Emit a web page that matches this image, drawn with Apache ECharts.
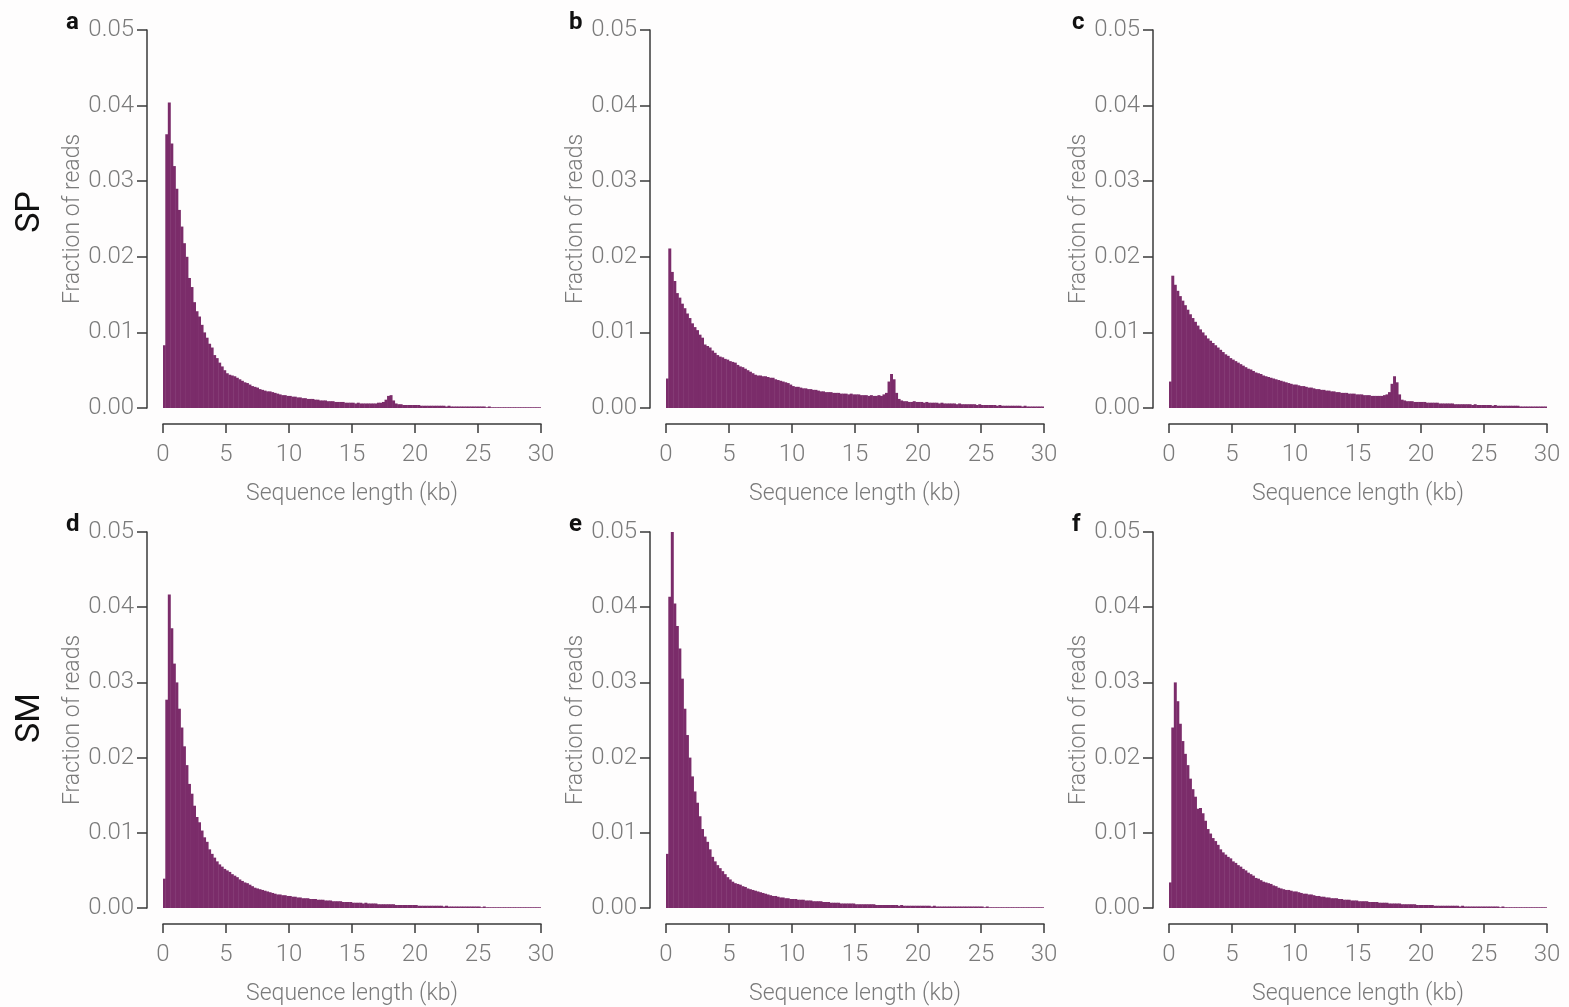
<!DOCTYPE html>
<html>
<head>
<meta charset="utf-8">
<script src="https://cdn.jsdelivr.net/npm/echarts@6/dist/echarts.min.js"></script>
<style>
html,body{margin:0;padding:0;background:#fefdfd;}
#chart{width:1569px;height:1007px;}
</style>
</head>
<body>
<div id="chart"></div>
<script>
// Histogram bins: 0.2 kb wide, 0 - 30 kb
const binWidthKb = 0.2;
const xTicks = [0, 5, 10, 15, 20, 25, 30];
const yTicks = [0.00, 0.01, 0.02, 0.03, 0.04, 0.05];
const panelLetters = ['a', 'b', 'c', 'd', 'e', 'f'];
const rowLabels = ['SP', 'SM'];

// Fraction of reads per bin
const spA = [
0.0083,0.0362,0.0404,0.0350,0.0320,0.0290,0.0262,0.0240,0.0218,0.0200,
0.0172,0.0160,0.0140,0.0128,0.0121,0.0110,0.0100,0.0093,0.0085,0.0080,
0.0070,0.0066,0.0060,0.0055,0.0050,0.0046,0.0044,0.0043,0.0042,0.0040,
0.0038,0.0036,0.0034,0.0033,0.0031,0.0029,0.0028,0.0027,0.0025,0.0024,
0.0023,0.0022,0.0022,0.0021,0.0020,0.0019,0.0018,0.0017,0.0017,0.0016,
0.0016,0.0015,0.0015,0.0014,0.0014,0.0013,0.0013,0.0012,0.0012,0.0012,
0.0011,0.0011,0.0010,0.0010,0.0010,0.0009,0.0009,0.0009,0.0008,0.0008,
0.0008,0.0008,0.0007,0.0007,0.0007,0.0007,0.0006,0.0007,0.0006,0.0006,
0.0006,0.0006,0.0006,0.0006,0.0006,0.0007,0.0007,0.0008,0.0011,0.0016,
0.0017,0.0010,0.0006,0.0005,0.0005,0.0004,0.0004,0.0004,0.0004,0.0004,
0.0004,0.0004,0.0003,0.0003,0.0003,0.0003,0.0003,0.0003,0.0003,0.0003,
0.0003,0.0003,0.0002,0.0003,0.0002,0.0002,0.0002,0.0002,0.0002,0.0002,
0.0002,0.0002,0.0002,0.0002,0.0002,0.0002,0.0002,0.0002,0.0001,0.0002,
0.0001,0.0001,0.0001,0.0001,0.0001,0.0001,0.0001,0.0001,0.0001,0.0001,
0.0001,0.0001,0.0001,0.0001,0.0001,0.0001,0.0001,0.0001,0.0001,0.0001
];
const spB = [
0.0039,0.0211,0.0180,0.0168,0.0152,0.0146,0.0138,0.0132,0.0125,0.0119,
0.0112,0.0107,0.0103,0.0097,0.0093,0.0084,0.0082,0.0080,0.0076,0.0073,
0.0070,0.0068,0.0067,0.0065,0.0064,0.0062,0.0061,0.0060,0.0057,0.0055,
0.0054,0.0052,0.0050,0.0048,0.0046,0.0044,0.0043,0.0043,0.0042,0.0042,
0.0041,0.0040,0.0040,0.0038,0.0037,0.0036,0.0035,0.0034,0.0033,0.0031,
0.0029,0.0028,0.0028,0.0027,0.0026,0.0026,0.0025,0.0025,0.0024,0.0024,
0.0023,0.0022,0.0022,0.0021,0.0021,0.0021,0.0020,0.0020,0.0020,0.0019,
0.0019,0.0019,0.0018,0.0019,0.0018,0.0018,0.0018,0.0017,0.0017,0.0017,
0.0016,0.0017,0.0016,0.0016,0.0017,0.0016,0.0018,0.0020,0.0035,0.0045,
0.0038,0.0020,0.0012,0.0010,0.0009,0.0009,0.0008,0.0008,0.0009,0.0008,
0.0008,0.0008,0.0007,0.0008,0.0007,0.0007,0.0007,0.0007,0.0006,0.0007,
0.0006,0.0006,0.0006,0.0006,0.0006,0.0005,0.0006,0.0005,0.0005,0.0005,
0.0005,0.0005,0.0005,0.0004,0.0005,0.0004,0.0004,0.0004,0.0004,0.0004,
0.0004,0.0003,0.0004,0.0003,0.0003,0.0003,0.0003,0.0003,0.0003,0.0003,
0.0003,0.0002,0.0003,0.0002,0.0002,0.0002,0.0002,0.0002,0.0002,0.0002
];
const spC = [
0.0035,0.0175,0.0163,0.0155,0.0148,0.0142,0.0136,0.0130,0.0124,0.0119,
0.0114,0.0109,0.0104,0.0100,0.0096,0.0092,0.0089,0.0086,0.0083,0.0080,
0.0077,0.0074,0.0071,0.0069,0.0066,0.0064,0.0062,0.0060,0.0058,0.0056,
0.0054,0.0052,0.0051,0.0049,0.0047,0.0046,0.0045,0.0043,0.0042,0.0041,
0.0040,0.0039,0.0038,0.0037,0.0036,0.0035,0.0034,0.0033,0.0032,0.0031,
0.0031,0.0030,0.0029,0.0029,0.0028,0.0027,0.0027,0.0026,0.0025,0.0025,
0.0024,0.0024,0.0023,0.0023,0.0022,0.0022,0.0021,0.0021,0.0020,0.0020,
0.0020,0.0019,0.0019,0.0019,0.0018,0.0018,0.0018,0.0017,0.0017,0.0017,
0.0016,0.0016,0.0016,0.0016,0.0016,0.0017,0.0018,0.0021,0.0032,0.0042,
0.0034,0.0018,0.0011,0.0010,0.0009,0.0009,0.0009,0.0008,0.0008,0.0008,
0.0008,0.0008,0.0007,0.0007,0.0007,0.0007,0.0007,0.0006,0.0006,0.0006,
0.0006,0.0006,0.0006,0.0005,0.0005,0.0005,0.0005,0.0005,0.0005,0.0005,
0.0004,0.0005,0.0004,0.0004,0.0004,0.0004,0.0004,0.0004,0.0003,0.0004,
0.0003,0.0003,0.0003,0.0003,0.0003,0.0003,0.0003,0.0003,0.0003,0.0002,
0.0002,0.0002,0.0002,0.0002,0.0002,0.0002,0.0002,0.0002,0.0002,0.0002
];
const smD = [
0.0039,0.0277,0.0417,0.0372,0.0325,0.0300,0.0265,0.0240,0.0215,0.0190,
0.0165,0.0152,0.0136,0.0121,0.0114,0.0103,0.0094,0.0088,0.0078,0.0072,
0.0067,0.0062,0.0058,0.0055,0.0052,0.0050,0.0048,0.0045,0.0043,0.0041,
0.0038,0.0036,0.0034,0.0033,0.0031,0.0029,0.0027,0.0026,0.0025,0.0024,
0.0023,0.0022,0.0021,0.0020,0.0019,0.0018,0.0018,0.0017,0.0017,0.0016,
0.0016,0.0015,0.0015,0.0014,0.0014,0.0013,0.0013,0.0013,0.0012,0.0012,
0.0012,0.0011,0.0011,0.0011,0.0010,0.0010,0.0010,0.0009,0.0009,0.0009,
0.0009,0.0008,0.0008,0.0008,0.0008,0.0007,0.0007,0.0007,0.0007,0.0006,
0.0007,0.0006,0.0006,0.0006,0.0006,0.0005,0.0005,0.0005,0.0005,0.0005,
0.0005,0.0005,0.0004,0.0004,0.0004,0.0004,0.0004,0.0004,0.0004,0.0004,
0.0004,0.0003,0.0003,0.0003,0.0003,0.0003,0.0003,0.0003,0.0003,0.0003,
0.0003,0.0002,0.0003,0.0002,0.0002,0.0002,0.0002,0.0002,0.0002,0.0002,
0.0002,0.0002,0.0002,0.0002,0.0002,0.0002,0.0001,0.0002,0.0001,0.0001,
0.0001,0.0001,0.0001,0.0001,0.0001,0.0001,0.0001,0.0001,0.0001,0.0001,
0.0001,0.0001,0.0001,0.0001,0.0001,0.0001,0.0001,0.0001,0.0001,0.0001
];
const smE = [
0.0072,0.0414,0.0500,0.0405,0.0375,0.0345,0.0305,0.0265,0.0230,0.0200,
0.0175,0.0155,0.0140,0.0122,0.0105,0.0095,0.0088,0.0078,0.0068,0.0062,
0.0057,0.0053,0.0049,0.0045,0.0041,0.0038,0.0035,0.0033,0.0032,0.0031,
0.0029,0.0028,0.0026,0.0025,0.0024,0.0023,0.0022,0.0021,0.0020,0.0019,
0.0018,0.0017,0.0016,0.0016,0.0015,0.0014,0.0014,0.0013,0.0013,0.0012,
0.0012,0.0012,0.0011,0.0011,0.0011,0.0010,0.0010,0.0010,0.0009,0.0009,
0.0009,0.0009,0.0008,0.0008,0.0008,0.0007,0.0007,0.0007,0.0007,0.0006,
0.0006,0.0006,0.0006,0.0006,0.0006,0.0005,0.0005,0.0005,0.0005,0.0005,
0.0005,0.0005,0.0005,0.0004,0.0004,0.0004,0.0004,0.0004,0.0004,0.0004,
0.0004,0.0004,0.0003,0.0004,0.0003,0.0003,0.0003,0.0003,0.0003,0.0003,
0.0003,0.0003,0.0003,0.0003,0.0003,0.0002,0.0003,0.0002,0.0002,0.0002,
0.0002,0.0002,0.0002,0.0002,0.0002,0.0002,0.0002,0.0002,0.0002,0.0002,
0.0002,0.0002,0.0002,0.0002,0.0002,0.0002,0.0001,0.0002,0.0001,0.0001,
0.0001,0.0001,0.0001,0.0001,0.0001,0.0001,0.0001,0.0001,0.0001,0.0001,
0.0001,0.0001,0.0001,0.0001,0.0001,0.0001,0.0001,0.0001,0.0001,0.0001
];
const smF = [
0.0034,0.0240,0.0300,0.0275,0.0245,0.0222,0.0205,0.0190,0.0172,0.0158,
0.0148,0.0132,0.0133,0.0126,0.0116,0.0105,0.0099,0.0093,0.0089,0.0084,
0.0078,0.0074,0.0071,0.0068,0.0066,0.0062,0.0060,0.0057,0.0055,0.0052,
0.0050,0.0047,0.0045,0.0043,0.0040,0.0039,0.0037,0.0035,0.0034,0.0033,
0.0032,0.0030,0.0029,0.0027,0.0026,0.0025,0.0024,0.0024,0.0023,0.0022,
0.0022,0.0021,0.0020,0.0019,0.0019,0.0018,0.0018,0.0017,0.0016,0.0016,
0.0015,0.0015,0.0014,0.0014,0.0013,0.0013,0.0013,0.0012,0.0012,0.0011,
0.0011,0.0011,0.0010,0.0010,0.0010,0.0009,0.0009,0.0009,0.0009,0.0008,
0.0008,0.0008,0.0008,0.0007,0.0007,0.0007,0.0007,0.0006,0.0006,0.0006,
0.0006,0.0006,0.0005,0.0005,0.0005,0.0005,0.0005,0.0005,0.0004,0.0004,
0.0004,0.0004,0.0004,0.0004,0.0004,0.0003,0.0003,0.0003,0.0003,0.0003,
0.0003,0.0003,0.0003,0.0003,0.0003,0.0002,0.0003,0.0002,0.0002,0.0002,
0.0002,0.0002,0.0002,0.0002,0.0002,0.0002,0.0002,0.0002,0.0002,0.0002,
0.0002,0.0001,0.0002,0.0001,0.0001,0.0001,0.0001,0.0001,0.0001,0.0001,
0.0001,0.0001,0.0001,0.0001,0.0001,0.0001,0.0001,0.0001,0.0001,0.0001
];

const panelSeries = [spA, spB, spC, smD, smE, smF];
const binLabels = spA.map((_, i) => (i * binWidthKb).toFixed(1));

// layout
const colLeft = [163, 666, 1169];
const rowTop = [30, 532];
const rowLabelY = [212, 718];
const plotW = 378, plotH = 378;
const barColor = '#7b2c6a';
const axisColor = '#3a3a3a';
const labelColor = '#7a7a7a';
const fontFam = 'Roboto, "Liberation Sans", sans-serif';

const grids = [], xAxes = [], yAxes = [], series = [], graphics = [];
panelSeries.forEach((data, p) => {
  const r = Math.floor(p / 3), c = p % 3;
  grids.push({left: colLeft[c], top: rowTop[r], width: plotW, height: plotH, containLabel: false});
  // hidden category axis for bins
  xAxes.push({type: 'category', gridIndex: p, data: binLabels, show: false, boundaryGap: true});
  // visible value axis for kb ticks
  xAxes.push({
    type: 'value', gridIndex: p, min: xTicks[0], max: xTicks[xTicks.length - 1], interval: 5,
    offset: 16, position: 'bottom',
    axisLine: {show: true, onZero: false, lineStyle: {color: axisColor, width: 1.5}},
    axisTick: {show: true, inside: false, length: 9, lineStyle: {color: axisColor, width: 1.5}},
    axisLabel: {color: labelColor, fontSize: 24, fontFamily: fontFam, fontWeight: 300, margin: 19},
    splitLine: {show: false},
    name: 'Sequence length (kb)', nameLocation: 'middle', nameGap: 59,
    nameTextStyle: {color: labelColor, fontSize: 23, fontFamily: fontFam, fontWeight: 300}
  });
  yAxes.push({
    type: 'value', gridIndex: p, min: yTicks[0], max: yTicks[yTicks.length - 1], interval: 0.01,
    offset: 16,
    axisLine: {show: true, onZero: false, lineStyle: {color: axisColor, width: 1.5}},
    axisTick: {show: true, inside: false, length: 10, lineStyle: {color: axisColor, width: 1.5}},
    axisLabel: {color: labelColor, fontSize: 24, fontFamily: fontFam, fontWeight: 300, margin: 13,
      formatter: v => v.toFixed(2)},
    splitLine: {show: false},
    name: 'Fraction of reads', nameLocation: 'middle', nameGap: 62, nameRotate: 90,
    nameTextStyle: {color: labelColor, fontSize: 23, fontFamily: fontFam, fontWeight: 300}
  });
  series.push({
    type: 'bar', xAxisIndex: p * 2, yAxisIndex: p, data: data,
    barWidth: '118%', barCategoryGap: '0%',
    itemStyle: {color: barColor}, silent: true, animation: false
  });
  graphics.push({
    type: 'text', left: colLeft[c] - 97, top: rowTop[r] - 19,
    style: {text: panelLetters[p], fill: '#111', font: 'bold 24px ' + fontFam}
  });
});
rowLabels.forEach((t, r) => {
  graphics.push({
    type: 'text', x: 30, y: rowLabelY[r], rotation: Math.PI / 2,
    style: {text: t, fill: '#111', font: '400 34px ' + fontFam, textAlign: 'center', textVerticalAlign: 'middle'}
  });
});

const chart = echarts.init(document.getElementById('chart'), null, {renderer: 'canvas'});
chart.setOption({
  backgroundColor: '#fefdfd',
  animation: false,
  grid: grids, xAxis: xAxes, yAxis: yAxes, series: series, graphic: graphics
});
</script>
</body>
</html>
